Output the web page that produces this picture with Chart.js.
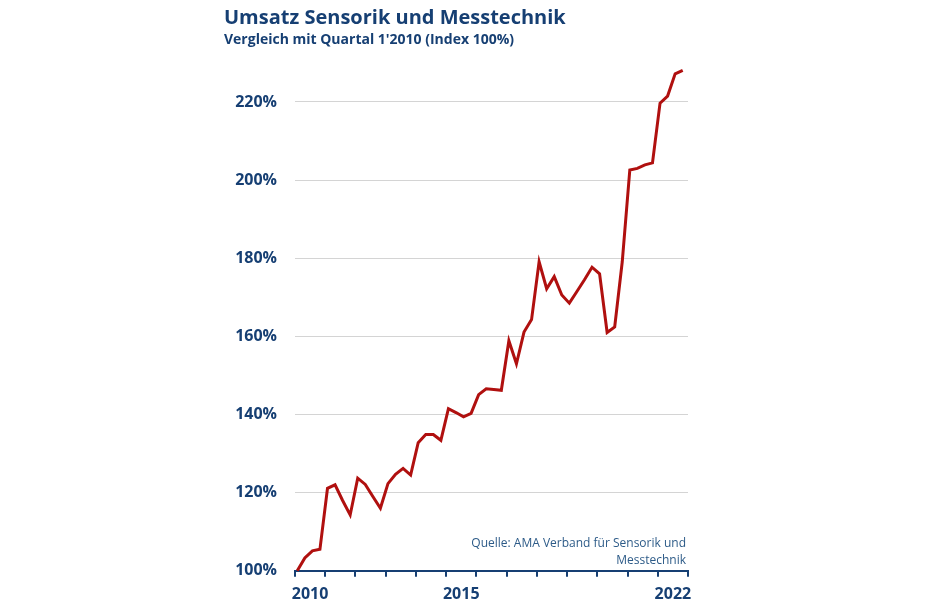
<!DOCTYPE html>
<html>
<head>
<meta charset="utf-8">
<script src="https://cdn.jsdelivr.net/npm/chart.js@4"></script>
<style>
	body { margin: 0; background: #fff; }
	canvas { display: block; }
</style>
</head>
<body>
<canvas id="umsatzChart" width="950" height="610"></canvas>
<script>
// Index, Quartal 1/2010 = 100 %, one value per quarter 2010 Q1 .. 2022 Q4
var indexValues = [
	100, 103.3, 105.1, 105.5,
	121.1, 122, 118, 114.3,
	123.7, 122.1, 119, 116,
	122.3, 124.7, 126.2, 124.5,
	132.8, 134.9, 134.9, 133.4,
	141.5, 140.5, 139.4, 140.3,
	145.1, 146.6, 146.4, 146.2,
	158.9, 153, 161.1, 164.3,
	179.1, 172.2, 175.3, 170.6,
	168.5, 171.5, 174.5, 177.7,
	176, 161, 162.4, 179.1,
	202.6, 203, 203.9, 204.4,
	219.7, 221.5, 227.2, 228.1
];
var yearLabels = ["2010", "2015", "2022"];
var yearLabelPos = [1.7, 21.7, 49.7];
var yTicks = [100, 120, 140, 160, 180, 200, 220];
var sourceLines = ["Quelle: AMA Verband für Sensorik und", "Messtechnik"];

var blue = "#163f73";
var lineRed = "#b0100f";

var points = indexValues.map(function (v, i) {
	return { x: i, y: v };
});

var sourcePlugin = {
	id: "sourceText",
	afterDraw: function (chart) {
		var ctx = chart.ctx;
		var area = chart.chartArea;
		ctx.save();
		ctx.font = "12px 'Open Sans'";
		ctx.fillStyle = "#2d5b88";
		ctx.textAlign = "right";
		ctx.textBaseline = "middle";
		ctx.fillText(sourceLines[0], area.right - 2, area.bottom - 27);
		ctx.fillText(sourceLines[1], area.right - 2, area.bottom - 10);
		ctx.restore();
	},
};

new Chart(document.getElementById("umsatzChart"), {
	type: "line",
	data: {
		datasets: [
			{
				data: points,
				borderColor: lineRed,
				borderWidth: 3,
				pointRadius: 0,
				tension: 0,
				clip: false,
			},
		],
	},
	options: {
		responsive: false,
		animation: false,
		layout: { padding: { left: 224, right: 262, top: 0, bottom: 6 } },
		plugins: {
			legend: { display: false },
			tooltip: { enabled: false },
			title: {
				display: true,
				text: "Umsatz Sensorik und Messtechnik",
				align: "start",
				color: blue,
				font: { family: "Open Sans", size: 20, weight: "bold" },
				padding: { top: 6, bottom: 0 },
			},
			subtitle: {
				display: true,
				text: "Vergleich mit Quartal 1'2010 (Index 100%)",
				align: "start",
				color: blue,
				font: { family: "Open Sans", size: 14, weight: "bold" },
				padding: { top: 2, bottom: 18 },
			},
		},
		scales: {
			x: {
				type: "linear",
				min: -0.3,
				max: 51.7,
				afterBuildTicks: function (axis) {
					var t = [];
					for (var k = 0; k <= 13; k++) t.push({ value: -0.3 + 4 * k });
					axis.ticks = t;
				},
				ticks: { display: false },
				border: { display: true, color: blue, width: 2 },
				grid: { drawOnChartArea: false, color: blue, lineWidth: 2, tickLength: 6 },
			},
			xYears: {
				type: "linear",
				position: "bottom",
				min: -0.3,
				max: 51.7,
				afterBuildTicks: function (axis) {
					axis.ticks = yearLabelPos.map(function (p) { return { value: p }; });
				},
				ticks: {
					autoSkip: false,
					maxRotation: 0,
					padding: 0,
					color: blue,
					font: { family: "Open Sans", size: 16, weight: "bold" },
					callback: function (value, index) {
						return yearLabels[index];
					},
				},
				border: { display: false },
				grid: { display: false },
			},
			y: {
				min: 100,
				max: 229,
				afterBuildTicks: function (axis) {
					axis.ticks = yTicks.map(function (v) { return { value: v }; });
				},
				ticks: {
					padding: 18,
					color: blue,
					font: { family: "Open Sans", size: 16, weight: "bold" },
					callback: function (value) {
						return value + "%";
					},
				},
				border: { display: false },
				grid: {
					drawTicks: false,
					color: function (c) {
						return c.tick && c.tick.value === 100 ? "rgba(0,0,0,0)" : "#d4d4d4";
					},
					lineWidth: 1,
				},
				afterFit: function (axis) {
					axis.width = 71;
				},
			},
		},
	},
	plugins: [sourcePlugin],
});

// dashed grid lines
Chart.defaults.scale.grid.borderDash = [3, 3];
</script>
</body>
</html>
